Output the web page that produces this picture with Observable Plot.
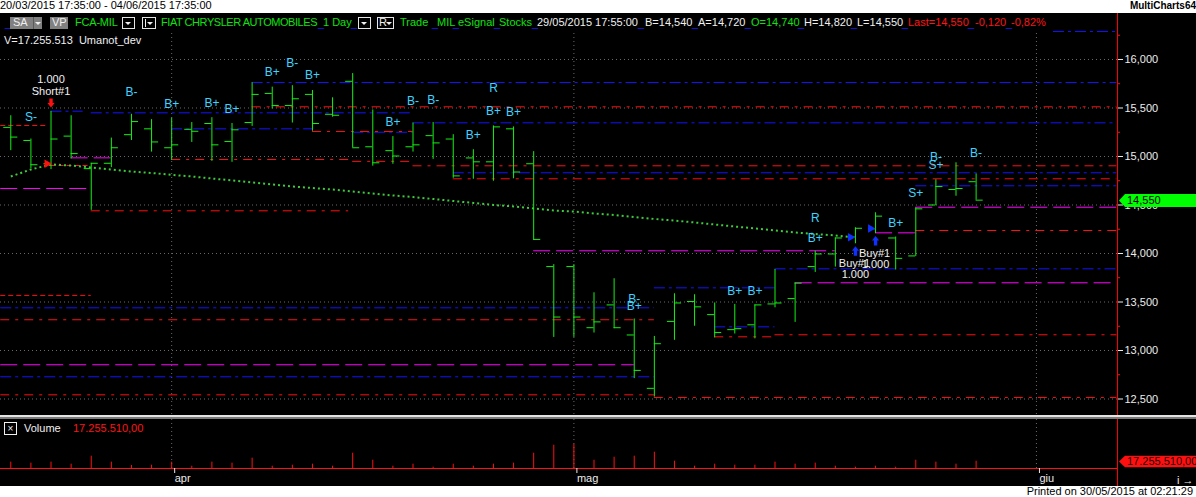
<!DOCTYPE html>
<html><head><meta charset="utf-8">
<script src="https://cdn.jsdelivr.net/npm/d3@7"></script>
<script src="https://cdn.jsdelivr.net/npm/@observablehq/plot@0.6"></script>
<style>
html,body{margin:0;padding:0;background:#fff;}
body{width:1196px;height:497px;overflow:hidden;position:relative;font-family:"Liberation Sans",Arial,sans-serif;font-size:11px;}
.a{position:absolute;white-space:pre;line-height:13px;}
#bg{position:absolute;left:0;top:13px;width:1196px;height:473px;background:#000;}
#main{position:absolute;left:0;top:13px;}
#vol{position:absolute;left:0;top:419px;}
#hdr{position:absolute;left:0;top:13px;width:1049px;height:20px;background:#000;}
.g{color:#10e010}.w{color:#f0f0f0}.r{color:#ff1414}.u{color:#1a1aff}
.box{position:absolute;top:17px;height:10px;border:1px solid #e6e6e6;}
.tri{position:absolute;top:4px;width:0;height:0;border-left:3px solid transparent;border-right:3px solid transparent;border-top:3px solid #f0f0f0;}
.gray{position:absolute;top:17px;height:12px;background:#808080;}
#axline{position:absolute;left:1117px;top:13px;width:1px;height:473px;background:#ff0000;}
</style></head><body>
<div class="a" style="left:0;top:-1px;color:#000">20/03/2015 17:35:00 - 04/06/2015 17:35:00</div>
<div class="a" style="right:0;top:-1px;color:#000;font-weight:bold;font-size:10px">MultiCharts64</div>
<div id="bg"></div>
<div id="main"></div>
<div id="axline"></div>
<div style="position:absolute;left:0;top:415px;width:1196px;height:2px;background:#e4e4e4"></div>
<div style="position:absolute;left:0;top:417px;width:1196px;height:2px;background:#7a7a7a"></div>
<div id="vol"></div>
<div id="hdr"></div>
<!-- header row -->
<span class="a u" style="left:5px;top:17px">_</span>
<div class="gray" style="left:10px;width:32px"><span class="a w" style="left:3px;top:-1px">SA</span><div style="position:absolute;left:23px;top:0;width:1px;height:12px;background:#5a5a5a"></div><div class="tri" style="left:25px;top:5px"></div></div>
<div class="gray" style="left:50px;width:18px"><span class="a w" style="left:2px;top:-1px">VP</span></div>
<span class="a g" style="left:75px;top:16px;letter-spacing:-0.2px">FCA-MIL</span>
<div class="box" style="left:122px;width:11px"><div class="tri" style="left:2px"></div></div>
<div class="box" style="left:142px;width:12px"><div style="position:absolute;left:2px;top:1px;width:1px;height:8px;background:#f0f0f0"></div><div class="tri" style="left:4px"></div></div>
<span class="a g" style="left:161px;top:16px;letter-spacing:-0.45px">FIAT CHRYSLER AUTOMOBILES</span>
<span class="a u" style="left:318px;top:17px">_</span>
<span class="a g" style="left:323px;top:16px">1 Day</span>
<span class="a u" style="left:351px;top:17px">_</span>
<div class="box" style="left:358px;width:11px"><div class="tri" style="left:2px"></div></div>
<div class="box" style="left:377px;width:15px"><span class="a w" style="left:1px;top:-2px">R</span><div class="tri" style="left:8px"></div></div>
<span class="a g" style="left:400px;top:16px">Trade</span>
<span class="a u" style="left:432px;top:17px">_</span>
<span class="a g" style="left:437px;top:16px">MIL</span>
<span class="a u" style="left:453px;top:17px">_</span>
<span class="a g" style="left:458px;top:16px">eSignal</span>
<span class="a u" style="left:494px;top:17px">_</span>
<span class="a g" style="left:499px;top:16px">Stocks</span>
<span class="a u" style="left:532px;top:17px">_</span>
<span class="a w" style="left:537px;top:16px">29/05/2015 17:55:00</span>
<span class="a u" style="left:638px;top:17px">_</span>
<span class="a w" style="left:645px;top:16px">B=14,540</span>
<span class="a u" style="left:692px;top:17px">_</span>
<span class="a w" style="left:698px;top:16px">A=14,720</span>
<span class="a u" style="left:745px;top:17px">_</span>
<span class="a g" style="left:751px;top:16px">O=14,740</span>
<span class="a u" style="left:798px;top:17px">_</span>
<span class="a w" style="left:804px;top:16px">H=14,820</span>
<span class="a u" style="left:851px;top:17px">_</span>
<span class="a w" style="left:857px;top:16px">L=14,550</span>
<span class="a u" style="left:902px;top:17px">_</span>
<span class="a r" style="left:908px;top:16px">Last=14,550</span>
<span class="a u" style="left:968px;top:17px">_</span>
<span class="a r" style="left:975px;top:16px">-0,120</span>
<span class="a u" style="left:1006px;top:17px">_</span>
<span class="a r" style="left:1011px;top:16px">-0,82%</span>
<span class="a w" style="left:4px;top:34px">V=17.255.513  Umanot_dev</span>
<!-- volume header -->
<div style="position:absolute;left:4px;top:422px;width:11px;height:11px;border:1px solid #f0f0f0;color:#f0f0f0;font-size:10px;line-height:11px;text-align:center">×</div>
<span class="a w" style="left:24px;top:422px">Volume</span>
<span class="a r" style="left:73px;top:422px">17.255.510,00</span>
<div class="a" style="right:3px;top:485px;color:#000">Printed on 30/05/2015 at 02:21:29</div>
<script>
// ---------------- data ----------------
const dates = ["2015-03-20","2015-03-23","2015-03-24","2015-03-25","2015-03-26","2015-03-27","2015-03-30","2015-03-31",
"2015-04-01","2015-04-02","2015-04-07","2015-04-08","2015-04-09","2015-04-10","2015-04-13","2015-04-14","2015-04-15","2015-04-16","2015-04-17",
"2015-04-20","2015-04-21","2015-04-22","2015-04-23","2015-04-24","2015-04-27","2015-04-28","2015-04-29","2015-04-30",
"2015-05-01","2015-05-04","2015-05-05","2015-05-06","2015-05-07","2015-05-08","2015-05-11","2015-05-12","2015-05-13","2015-05-14","2015-05-15",
"2015-05-18","2015-05-19","2015-05-20","2015-05-21","2015-05-22","2015-05-25","2015-05-26","2015-05-27","2015-05-28","2015-05-29"];
const open  = [15.300,15.165,14.925,15.210,14.875,14.930,15.225,15.285,15.090,15.280,15.340,15.155,15.350,15.650,15.525,15.640,15.435,15.775,15.100,15.060,15.100,15.215,15.180,14.985,14.945,15.285,14.925,13.865,13.865,13.235,13.470,13.160,12.610,13.300,13.505,13.370,13.215,13.265,13.480,13.535,13.865,13.995,14.170,14.255,14.160,13.975,14.500,14.660,14.740];
const high  = [15.420,15.180,15.465,15.420,14.930,15.190,15.435,15.380,15.395,15.350,15.400,15.340,15.760,15.715,15.730,15.680,15.605,15.855,15.480,15.205,15.345,15.350,15.225,15.070,15.315,15.305,15.050,13.885,13.885,13.595,13.740,13.325,13.145,13.585,13.575,13.490,13.475,13.470,13.835,13.695,14.025,14.160,14.265,14.420,14.170,14.470,14.760,14.935,14.820];
const low   = [15.060,14.875,14.865,14.975,14.445,14.885,15.165,15.045,14.960,15.145,14.950,14.940,15.310,15.490,15.345,15.260,15.405,15.090,14.900,14.920,15.045,14.970,14.775,14.765,14.745,14.770,14.135,13.135,13.135,13.180,13.225,12.710,12.520,13.105,13.250,13.130,13.170,13.120,13.440,13.290,13.805,13.860,14.100,14.205,13.830,13.970,14.495,14.590,14.550];
const close = [15.200,14.915,15.180,15.030,14.930,15.090,15.360,15.150,15.120,15.260,15.120,15.275,15.640,15.525,15.595,15.340,15.425,15.090,14.935,15.005,15.120,15.140,14.800,14.945,15.305,14.840,14.145,13.345,13.345,13.295,13.235,12.795,13.070,13.490,13.450,13.185,13.225,13.470,13.490,13.695,13.995,14.160,14.260,14.385,13.950,14.460,14.690,14.670,14.550];
const volumeM = [15.0,12.6,15.0,10.2,29.1,15.0,7.1,7.8,15.0,5.4,15.0,12.6,24.4,5.4,7.8,10.2,5.4,36.2,19.6,5.4,10.2,3.1,10.2,5.4,10.2,12.6,36.2,55.1,57.4,19.6,26.7,29.1,38.5,17.3,5.4,10.2,7.8,7.8,15.0,10.2,12.6,5.4,3.1,5.4,3.1,19.6,15.0,10.2,17.26];
const trendLine = [14.794,14.866,14.918,14.907,14.887,14.866,14.845,14.830,14.811,14.794,14.773,14.753,14.732,14.711,14.691,14.675,14.660,14.639,14.619,14.598,14.582,14.562,14.541,14.521,14.500,14.485,14.464,14.443,14.433,14.412,14.397,14.376,14.356,14.340,14.320,14.299,14.278,14.258,14.237,14.217,14.201,14.186,14.165];
const monthTickBars = [8, 28, 51];
const monthLabels = ["apr", "mag", "giu"];
const priceTicks = [12.5, 13, 13.5, 14, 14.5, 15, 15.5, 16];
const minorTicks = [12.75, 13.25, 13.75, 14.25, 14.75, 15.25, 15.75, 16.25];
const signalBars   = [1, 6, 8, 10, 11, 13, 14, 15, 19, 20, 21, 23, 24, 24, 25, 31, 31, 36, 37, 40, 40, 44, 45, 46, 46, 48];
const signalPrices = [15.405,15.663,15.543,15.549,15.492,15.873,15.966,15.838,15.354,15.570,15.585,15.224,15.708,15.467,15.457,13.526,13.454,13.616,13.616,14.364,14.155,14.317,14.626,14.990,14.907,15.038];
const signalTexts  = ["S-","B-","B+","B+","B+","B+","B-","B+","B+","B-","B-","B+","R","B+","B+","B-","B+","B+","B+","R","B+","B+","S+","B-","S+","B-"];
const shortBars = [2], shortPrices = [14.925], shortNames = ["Short#1"], shortQty = ["1.000"];
const buyBars = [42, 43], buyPrices = [14.168, 14.258], buyNames = ["Buy#1", "Buy#1"], buyQty = ["1.000", "1.000"];
// levels: [fromBar, toBar, price]
const blueDashDot = [[42,55,16.289],[12,55,15.763],[2,3.6,15.467],[4,20,15.450],[8,15,15.285],[17,20,15.250],[20,55,15.347],[22,55,14.832],[45,55,14.698],[38,55,13.842],[-0.5,32,13.440],[-0.5,32,12.729],[32,38,13.646],[35,38,13.244]];
const redDashDot = [[12,55,15.512],[15,20,15.258],[8,16.8,14.969],[17,20,14.950],[20,55,14.904],[22,55,14.770],[45,55,14.237],[4,16.8,14.440],[-0.5,32,13.317],[-0.5,32,12.543],[32,55,12.516],[35,38,13.141],[38,55,13.162]];
const redDash = [[-0.5,1.8,15.320],[2,4,14.907],[-0.5,4,13.568]];
const magentaDash = [[45,55,14.477],[43,45,14.213],[26,41,14.028],[39,55,13.698],[-0.5,4,14.670],[3,5,14.986],[-0.5,31,12.853]];
const lastPrice = 14.550, lastVolumeM = 17.25551;

// ---------------- helpers ----------------
const it = d3.formatLocale({decimal: ",", thousands: ".", grouping: [3], currency: ["", ""]});
const fmtPrice = it.format(".3f");
const fmtVol = it.format(",.2f");
const xDomain = [-0.512, 55.03];
const GREEN = "#14f014";
const bars = dates.map((d, i) => ({i, date: d, open: open[i], high: high[i], low: low[i], close: close[i], vol: volumeM[i]}));
const trend = trendLine.map((v, i) => ({i, v}));
const signals = signalTexts.map((t, k) => ({bar: signalBars[k], price: signalPrices[k], t}));
const shorts = shortBars.map((b, k) => ({bar: b, price: shortPrices[k], hi: high[b], name: shortNames[k], qty: shortQty[k]}));
const buys = buyBars.map((b, k) => ({bar: b, price: buyPrices[k], lo: low[b], name: buyNames[k], qty: buyQty[k]}));
const seg = a => a.map(([x1, x2, p]) => ({x1, x2, p}));
const blockArrow = {draw(ctx, l) {
  const hw = 3.6, sw = 1.7, hl = 4.5;
  ctx.moveTo(-sw, 0); ctx.lineTo(-sw, -l + hl); ctx.lineTo(-hw, -l + hl); ctx.lineTo(0, -l);
  ctx.lineTo(hw, -l + hl); ctx.lineTo(sw, -l + hl); ctx.lineTo(sw, 0); ctx.closePath();
}};
function tag(value, text, bg, fg, half) {
  return (index, scales, values, dims) => {
    const y0 = Math.round(scales.y(value)) + 0.5;
    const x0 = dims.width - dims.marginRight + 2;
    const g = d3.create("svg:g");
    g.append("path").attr("d", `M${x0},${y0}L${x0 + 6},${y0 - half}H${dims.width}V${y0 + half}H${x0 + 6}Z`).attr("fill", bg);
    g.append("text").attr("x", x0 + 8).attr("y", y0).attr("dy", "0.36em").attr("fill", fg)
      .attr("text-anchor", "start").attr("font-size", 11)
      .attr("font-family", "Liberation Sans, Arial, sans-serif").text(text);
    return g.node();
  };
}
const style = {background: "transparent", color: "#e8e8e8", fontFamily: "Liberation Sans, Arial, sans-serif", fontSize: "11px"};

// ---------------- main price panel ----------------
const main = Plot.plot({
  width: 1196, height: 402, marginLeft: 0, marginRight: 79, marginTop: 0, marginBottom: 0, style,
  x: {domain: xDomain, axis: null},
  y: {domain: [12.330, 16.474], axis: null},
  marks: [
    Plot.gridY({ticks: priceTicks, stroke: "#6a6a6a", strokeOpacity: 1, strokeDasharray: "1,3"}),
    Plot.gridX({ticks: monthTickBars, stroke: "#6a6a6a", strokeOpacity: 1, strokeDasharray: "1,3"}),
    Plot.ruleY(seg(magentaDash), {y: "p", x1: "x1", x2: "x2", stroke: "#ff00ff", strokeDasharray: "17,6"}),
    Plot.ruleY(seg(blueDashDot), {y: "p", x1: "x1", x2: "x2", stroke: "#1414ff", strokeDasharray: "11,4,3,4"}),
    Plot.ruleY(seg(redDashDot), {y: "p", x1: "x1", x2: "x2", stroke: "#ff1010", strokeDasharray: "9,6,3,6"}),
    Plot.ruleY(seg(redDash), {y: "p", x1: "x1", x2: "x2", stroke: "#ff1010", strokeDasharray: "5,3"}),
    Plot.line(trend, {x: "i", y: "v", stroke: "#3ccc3c", strokeWidth: 2, strokeDasharray: "2,3", strokeLinecap: "butt"}),
    Plot.ruleX(bars, {x: "i", y1: "low", y2: "high", stroke: GREEN}),
    Plot.ruleY(bars, {y: "open", x1: d => d.i - 0.35, x2: "i", stroke: GREEN}),
    Plot.ruleY(bars, {y: "close", x1: "i", x2: d => d.i + 0.35, stroke: GREEN}),
    Plot.text(signals, {x: "bar", y: "price", text: "t", fill: "#3ed4ff", fontSize: 12}),
    Plot.vector(shorts, {x: "bar", y: "hi", length: 9, rotate: 180, anchor: "end", shape: blockArrow, fill: "#ff1010", stroke: "none", dy: -4}),
    Plot.dot(shorts, {x: "bar", y: "price", symbol: "triangle", r: 3.2, rotate: 90, fill: "#ff1010", stroke: "none", dx: -4}),
    Plot.text(shorts, {x: "bar", y: "hi", text: "name", fill: "#f0f0f0", dy: -20}),
    Plot.text(shorts, {x: "bar", y: "hi", text: "qty", fill: "#f0f0f0", dy: -32}),
    Plot.vector(buys, {x: "bar", y: "lo", length: 9.5, rotate: 0, anchor: "end", shape: blockArrow, fill: "#1030ff", stroke: "none", dy: 2.5}),
    Plot.dot(buys, {x: "bar", y: "price", symbol: "triangle", r: 3.2, rotate: 90, fill: "#1030ff", stroke: "none", dx: -5}),
    Plot.text(buys, {x: "bar", y: "lo", text: "name", fill: "#f0f0f0", dy: 20, dx: -1}),
    Plot.text(buys, {x: "bar", y: "lo", text: "qty", fill: "#f0f0f0", dy: 31}),
    Plot.axisY({anchor: "right", ticks: minorTicks, tickSize: 2, tickFormat: () => "", color: "#ff1010"}),
    Plot.axisY({anchor: "right", ticks: priceTicks, tickFormat: fmtPrice, tickSize: 5, tickPadding: 2, color: "#ececec", fontSize: 11}),
    tag(lastPrice, fmtPrice(lastPrice), "#00ff00", "#000", 6.5)
  ]
});
document.getElementById("main").append(main);

// ---------------- volume panel ----------------
const vol = Plot.plot({
  width: 1196, height: 67, marginLeft: 0, marginRight: 79, marginTop: 0, marginBottom: 18, style,
  x: {domain: xDomain, axis: null},
  y: {domain: [0, 115.8], axis: null},
  marks: [
    Plot.gridX({ticks: monthTickBars, stroke: "#6a6a6a", strokeOpacity: 1, strokeDasharray: "1,3"}),
    Plot.ruleX(bars, {x: "i", y1: 0, y2: "vol", stroke: "#ff1010"}),
    Plot.ruleY([0], {stroke: "#ff1010"}),
    Plot.axisX({ticks: monthTickBars, tickFormat: d => monthLabels[monthTickBars.indexOf(d)], tickSize: 5, tickPadding: 1, textAnchor: "start", dx: 3, color: "#ececec", fontSize: 11}),
    tag(lastVolumeM, fmtVol(lastVolumeM * 1e6), "#ff1010", "#1a0000", 5.8)
  ]
});
document.getElementById("vol").append(vol);
</script>
</body></html>
